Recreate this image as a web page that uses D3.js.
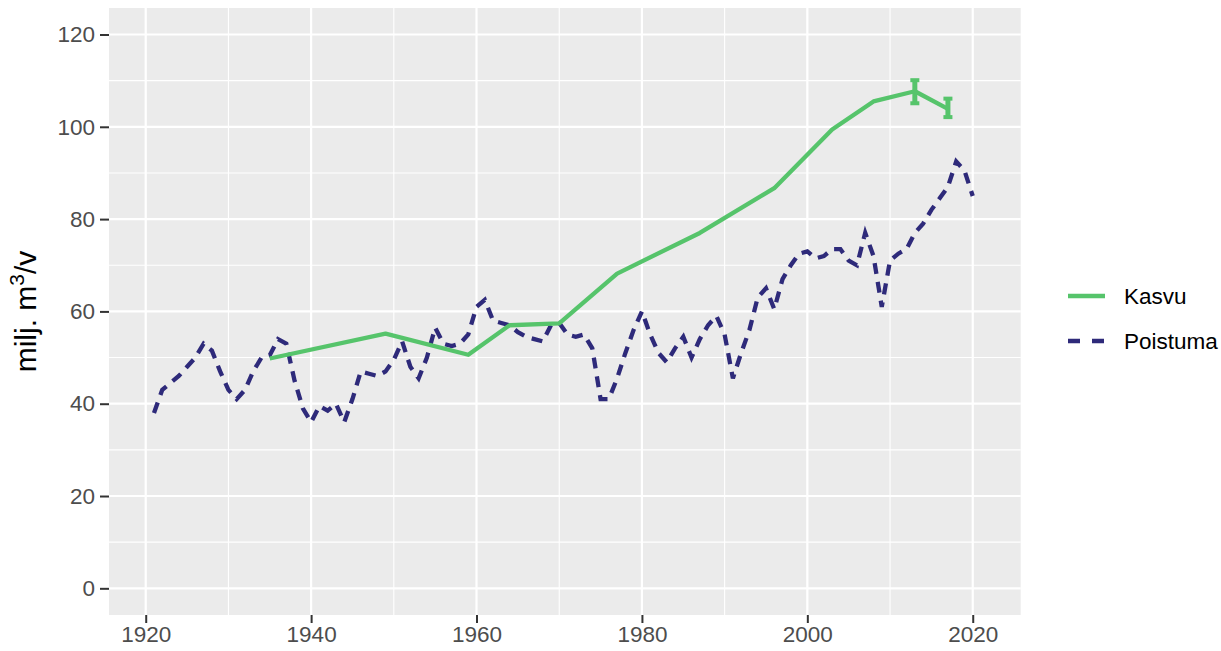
<!DOCTYPE html>
<html><head><meta charset="utf-8">
<script src="https://cdn.jsdelivr.net/npm/d3@7"></script>
<style>
html,body{margin:0;padding:0;background:#fff;}
svg{display:block;font-family:"Liberation Sans",Arial,sans-serif;}
</style></head>
<body><svg id="c" width="1221" height="651"></svg>
<script>
const xTicks = [1920, 1940, 1960, 1980, 2000, 2020];
const yTicks = [0, 20, 40, 60, 80, 100, 120];
const seriesNames = ["Kasvu", "Poistuma"];

const kasvuYears = [1935, 1949, 1959, 1964, 1970, 1977, 1987, 1996, 2003, 2008, 2013, 2017];
const kasvuValues = [49.8, 55.2, 50.6, 57.0, 57.4, 68.2, 77.0, 86.7, 99.4, 105.5, 107.7, 103.9];
const errYears = [2013, 2017];
const errLow = [105.1, 102.1];
const errHigh = [110.1, 106.1];

const poistumaYears = d3.range(1921, 2021);
const poistumaValues = [
  38, 43, 44.5, 46, 48, 50, 53, 51.5, 47, 43,
  41, 43, 47, 50, 50.5, 54, 53, 45, 39, 36,
  39.5, 38.5, 40, 36, 41, 47, 46.5, 46, 47, 49.5,
  53.5, 48, 45.5, 50, 56.5, 53, 52.5, 53, 55, 61,
  62.5, 58, 57.5, 57, 55.5, 54.5, 54, 53.5, 57, 57.5,
  55, 54.5, 55, 52, 41, 41, 45.5, 51, 56, 60,
  55, 51, 49, 52, 54.5, 50, 54, 57, 59, 55,
  45.5, 51, 56, 63, 65, 60.5, 67, 70, 72.5, 73,
  71.5, 72, 73.5, 73.5, 71, 70, 77, 72, 61, 71,
  72.5, 73.5, 77, 79, 82, 84.5, 87, 92.5, 90.5, 85
];

const green = "#56c46b", navy = "#2e2a7a";
const svg = d3.select("#c");
const P = {l:109, r:1020.7, t:8, b:615};
const x = d3.scaleLinear().domain([1915.56, 2025.8]).range([P.l, P.r]);
const y = d3.scaleLinear().domain([-5.78, 125.74]).range([P.b, P.t]);

svg.append("rect").attr("x",P.l).attr("y",P.t).attr("width",P.r-P.l).attr("height",P.b-P.t).attr("fill","#ebebeb");

// grid
const xMinor = [1930,1950,1970,1990,2010];
const yMinor = [10,30,50,70,90,110];
const g = svg.append("g");
g.selectAll(".xm").data(xMinor).join("line").attr("x1",d=>x(d)).attr("x2",d=>x(d)).attr("y1",P.t).attr("y2",P.b).attr("stroke","#fff").attr("stroke-width",1.1);
g.selectAll(".ym").data(yMinor).join("line").attr("y1",d=>y(d)).attr("y2",d=>y(d)).attr("x1",P.l).attr("x2",P.r).attr("stroke","#fff").attr("stroke-width",1.1);
g.selectAll(".xM").data(xTicks).join("line").attr("x1",d=>x(d)).attr("x2",d=>x(d)).attr("y1",P.t).attr("y2",P.b).attr("stroke","#fff").attr("stroke-width",2.2);
g.selectAll(".yM").data(yTicks).join("line").attr("y1",d=>y(d)).attr("y2",d=>y(d)).attr("x1",P.l).attr("x2",P.r).attr("stroke","#fff").attr("stroke-width",2.2);

// axes
const xAxis = d3.axisBottom(x).tickValues(xTicks).tickFormat(d3.format("d")).tickSize(8).tickPadding(3);
const gx = svg.append("g").attr("transform",`translate(0,${P.b})`).call(xAxis);
gx.select(".domain").remove();
gx.selectAll(".tick line").attr("stroke","#333").attr("stroke-width",2);
gx.selectAll(".tick text").attr("fill","#4d4d4d").attr("font-size",22.5).attr("font-family","Liberation Sans, Arial, sans-serif");

const yAxis = d3.axisLeft(y).tickValues(yTicks).tickSize(9).tickPadding(5);
const gy = svg.append("g").attr("transform",`translate(${P.l},0)`).call(yAxis);
gy.select(".domain").remove();
gy.selectAll(".tick line").attr("stroke","#333").attr("stroke-width",2);
gy.selectAll(".tick text").attr("fill","#4d4d4d").attr("font-size",22.5).attr("font-family","Liberation Sans, Arial, sans-serif");

// y title
const yt = svg.append("text").attr("transform",`translate(36,${(P.t+P.b)/2}) rotate(-90)`)
  .attr("text-anchor","middle").attr("font-size",30).attr("fill","#000");
yt.append("tspan").text("milj. m");
yt.append("tspan").text("3").attr("font-size",21).attr("dy",-12);
yt.append("tspan").text("/v").attr("dy",12);

// lines
const line = d3.line().x(d=>x(d[0])).y(d=>y(d[1]));
const kasvu = kasvuYears.map((yr,i)=>[yr,kasvuValues[i]]);
const poist = poistumaYears.map((yr,i)=>[yr,poistumaValues[i]]);

svg.append("path").datum(poist).attr("d",line).attr("fill","none").attr("stroke",navy)
  .attr("stroke-width",4.3).attr("stroke-dasharray","11,8");
svg.append("path").datum(kasvu).attr("d",line).attr("fill","none").attr("stroke",green)
  .attr("stroke-width",4.3).attr("stroke-linejoin","round");

// error bars
const eb = svg.append("g").attr("stroke",green);
errYears.forEach((yr,i)=>{
  eb.append("line").attr("x1",x(yr)).attr("x2",x(yr)).attr("y1",y(errLow[i])).attr("y2",y(errHigh[i])).attr("stroke-width",5);
  eb.append("line").attr("x1",x(yr)-4.5).attr("x2",x(yr)+4.5).attr("y1",y(errLow[i])).attr("y2",y(errLow[i])).attr("stroke-width",4);
  eb.append("line").attr("x1",x(yr)-4.5).attr("x2",x(yr)+4.5).attr("y1",y(errHigh[i])).attr("y2",y(errHigh[i])).attr("stroke-width",4);
});

// legend
const lg = svg.append("g");
const ly = [296, 341];
seriesNames.forEach((n,i)=>{
  lg.append("line").attr("x1",1068).attr("x2",1105).attr("y1",ly[i]).attr("y2",ly[i])
    .attr("stroke", i===0?green:navy).attr("stroke-width",4.3)
    .attr("stroke-dasharray", i===0?null:"12,12");
  lg.append("text").attr("x",1124).attr("y",ly[i]).attr("dy","0.35em").attr("font-size",22.5).attr("fill","#000").text(n);
});
</script></body></html>
